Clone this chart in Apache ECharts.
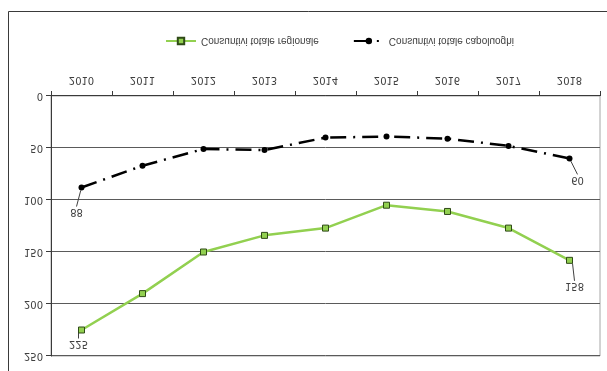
<!DOCTYPE html>
<html>
<head>
<meta charset="utf-8">
<script src="https://cdn.jsdelivr.net/npm/echarts@6/dist/echarts.min.js"></script>
<style>
  html, body { margin: 0; padding: 0; background: #fff; }
  #chart { width: 607px; height: 371px; transform: scaleY(-1); }
</style>
</head>
<body>
<div id="chart"></div>
<script>
// Years on the category axis
const years = ['2010', '2011', '2012', '2013', '2014', '2015', '2016', '2017', '2018'];
// Series values
const regionale = [225, 190, 150, 134, 127, 105, 111, 127, 158];
const capoluoghi = [88, 67, 51, 52, 40, 39, 41, 48, 60];
// Value axis range
const yMin = 0, yMax = 250, yStep = 50;

const textColor = '#404040';
const labelFont = { fontFamily: 'DejaVu Sans', fontSize: 10, color: textColor };

// Only the first and last point of each series carry a value label
function endLabels(values) {
  return values.map((v, i) => ({
    value: v,
    label: { show: i === 0 || i === values.length - 1 }
  }));
}

const chart = echarts.init(document.getElementById('chart'), null, { renderer: 'canvas' });

chart.setOption({
  animation: false,
  backgroundColor: '#fff',
  graphic: [{
    type: 'rect',
    shape: { x: 8.5, y: -10, width: 700, height: 369.5 },
    style: { fill: null, stroke: '#3a3a3a', lineWidth: 1 },
    silent: true
  }],
  legend: {
    left: 160,
    top: 320,
    itemWidth: 30,
    itemHeight: 8,
    itemGap: 34,
    textStyle: { fontFamily: 'Liberation Sans', fontSize: 10, color: textColor },
    data: ['Consuntivi totale regionale', 'Consuntivi totale capoluoghi']
  },
  grid: {
    left: 51, right: 7, top: 15, bottom: 96,
    show: true, borderColor: '#a6a6a6', borderWidth: 1, backgroundColor: 'transparent'
  },
  xAxis: {
    type: 'category',
    data: years,
    boundaryGap: true,
    axisLine: { lineStyle: { color: '#3a3a3a', width: 1 } },
    axisTick: { show: true, length: 5, alignWithLabel: false, lineStyle: { color: '#3a3a3a' } },
    axisLabel: Object.assign({ margin: 11 }, labelFont)
  },
  yAxis: {
    type: 'value',
    min: yMin, max: yMax, interval: yStep,
    axisLine: { show: true, lineStyle: { color: '#3a3a3a', width: 1 } },
    axisTick: { show: true, length: 5, lineStyle: { color: '#3a3a3a' } },
    axisLabel: Object.assign({ margin: 8 }, labelFont),
    splitLine: { show: true, lineStyle: { color: '#5a5a5a', width: 1 } }
  },
  series: [
    {
      name: 'Consuntivi totale regionale',
      type: 'line',
      data: endLabels(regionale),
      symbol: 'rect',
      symbolSize: 6,
      itemStyle: { color: '#92d050', borderColor: '#2f4a17', borderWidth: 1 },
      lineStyle: { color: '#92d050', width: 2.5 },
      label: Object.assign({ position: 'top', distance: 5 }, labelFont),
      labelLine: { show: true, lineStyle: { color: textColor, width: 1 } },
      labelLayout: function (p) {
        return p.dataIndex === 0 ? { dx: -3, dy: 0 } : { dx: 5, dy: -12 };
      },
      z: 3
    },
    {
      name: 'Consuntivi totale capoluoghi',
      type: 'line',
      data: endLabels(capoluoghi),
      symbol: 'circle',
      symbolSize: 6,
      itemStyle: { color: '#000' },
      lineStyle: { color: '#000', width: 2.5, type: [16, 7, 2, 7] },
      label: Object.assign({ position: 'top', distance: 5 }, labelFont),
      labelLine: { show: true, lineStyle: { color: textColor, width: 1 } },
      labelLayout: function (p) {
        return p.dataIndex === 0 ? { dx: -5, dy: -11 } : { dx: 8, dy: -8 };
      },
      z: 4
    }
  ]
});
</script>
</body>
</html>
